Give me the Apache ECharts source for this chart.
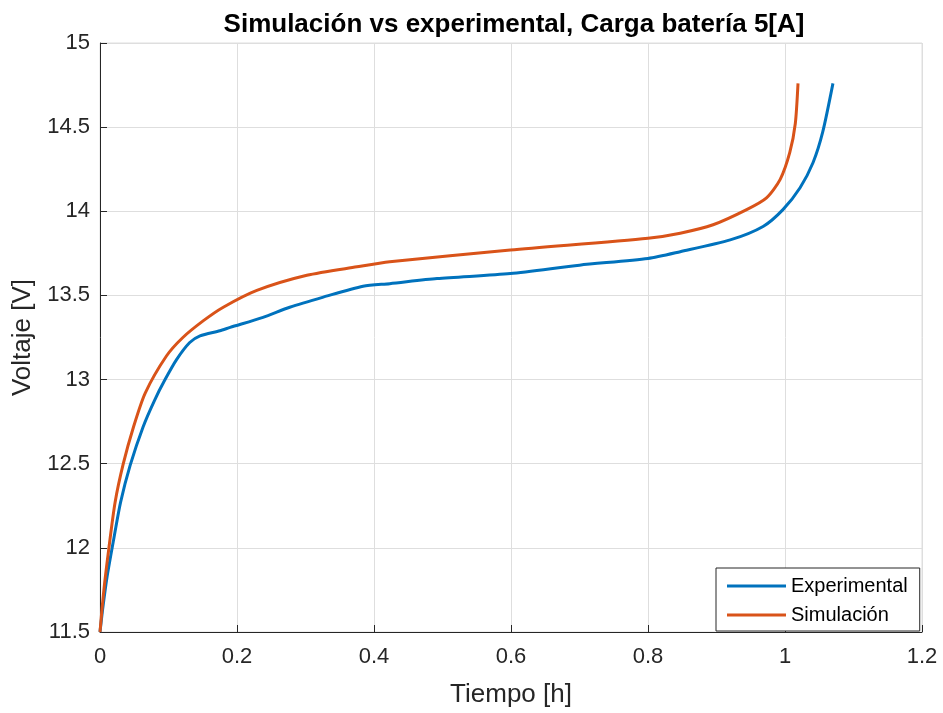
<!DOCTYPE html>
<html>
<head>
<meta charset="utf-8">
<script src="https://cdn.jsdelivr.net/npm/echarts@6/dist/echarts.min.js"></script>
<style>
  html, body { margin: 0; padding: 0; background: #fff; }
  #chart { width: 943px; height: 713px; }
</style>
</head>
<body>
<div id="chart"></div>
<script>
// Measured charge curves: time [h], voltage [V]
const expTime = [0, 0.004, 0.010, 0.0204, 0.030, 0.044, 0.063, 0.080, 0.095, 0.112, 0.131, 0.146, 0.175, 0.190, 0.238, 0.277, 0.326, 0.384, 0.423, 0.492, 0.599, 0.700, 0.800, 0.847, 0.920, 0.968, 0.997, 1.022, 1.041, 1.055, 1.070];
const expVolt = [11.5, 11.64, 11.82, 12.06, 12.27, 12.49, 12.72, 12.88, 13.0, 13.12, 13.22, 13.26, 13.29, 13.31, 13.37, 13.43, 13.49, 13.555, 13.57, 13.60, 13.63, 13.68, 13.72, 13.76, 13.83, 13.91, 14.01, 14.14, 14.29, 14.47, 14.76];

const simTime = [0, 0.003, 0.007, 0.013, 0.022, 0.034, 0.049, 0.066, 0.097, 0.121, 0.151, 0.180, 0.229, 0.302, 0.375, 0.423, 0.599, 0.800, 0.847, 0.895, 0.944, 0.973, 0.993, 1.007, 1.015, 1.019];
const simVolt = [11.5, 11.64, 11.80, 12.0, 12.27, 12.50, 12.72, 12.92, 13.14, 13.25, 13.35, 13.43, 13.53, 13.62, 13.67, 13.70, 13.77, 13.84, 13.87, 13.92, 14.01, 14.08, 14.19, 14.35, 14.52, 14.76];

const seriesNames = ['Experimental', 'Simulación'];
const xTicks = { min: 0, max: 1.2, step: 0.2 };
const yTicks = { min: 11.5, max: 15, step: 0.5 };

const pairs = (xs, ys) => xs.map((x, i) => [x, ys[i]]);

const font = 'Liberation Sans, Arial, Helvetica, sans-serif';
const axisGray = '#262626';
const gridGray = '#dedede';

const chart = echarts.init(document.getElementById('chart'));
chart.setOption({
  animation: false,
  backgroundColor: '#ffffff',
  title: {
    text: 'Simulación vs experimental, Carga batería 5[A]',
    left: 509, top: 7, textAlign: 'center',
    textStyle: { fontFamily: font, fontSize: 26, fontWeight: 'bold', color: '#000' }
  },
  grid: {
    left: 100, right: 21, top: 43, bottom: 81,
    containLabel: false, outerBoundsMode: 'none',
    show: true, borderColor: gridGray, borderWidth: 1
  },
  legend: {
    orient: 'vertical',
    left: 716, top: 568,
    padding: [8, 12, 6, 11],
    itemGap: 9,
    itemWidth: 59, itemHeight: 3,
    backgroundColor: '#fff',
    borderColor: axisGray, borderWidth: 1, borderRadius: 0,
    icon: 'rect',
    textStyle: { fontFamily: font, fontSize: 20, color: '#000' },
    data: seriesNames
  },
  xAxis: {
    type: 'value',
    min: xTicks.min, max: xTicks.max, interval: xTicks.step,
    name: 'Tiempo [h]', nameLocation: 'middle', nameGap: 50,
    nameTextStyle: { fontFamily: font, fontSize: 26, color: axisGray },
    axisLine: { show: true, lineStyle: { color: axisGray, width: 1 } },
    axisTick: { show: true, inside: true, length: 7, lineStyle: { color: axisGray } },
    axisLabel: { fontFamily: font, fontSize: 22, color: axisGray, margin: 14,
      formatter: v => String(Math.round(v * 10) / 10) },
    splitLine: { show: true, lineStyle: { color: gridGray, width: 1 } }
  },
  yAxis: {
    type: 'value',
    min: yTicks.min, max: yTicks.max, interval: yTicks.step,
    name: 'Voltaje [V]', nameLocation: 'middle', nameGap: 58, nameRotate: 90,
    nameTextStyle: { fontFamily: font, fontSize: 26, color: axisGray },
    axisLine: { show: true, lineStyle: { color: axisGray, width: 1 } },
    axisTick: { show: true, inside: true, length: 7, lineStyle: { color: axisGray } },
    axisLabel: { fontFamily: font, fontSize: 22, color: axisGray, margin: 10,
      formatter: v => String(Math.round(v * 10) / 10) },
    splitLine: { show: true, lineStyle: { color: gridGray, width: 1 } }
  },
  series: [
    {
      name: seriesNames[0], type: 'line', data: pairs(expTime, expVolt),
      smooth: 0.25, showSymbol: false,
      lineStyle: { color: '#0072BD', width: 3 }, itemStyle: { color: '#0072BD' }
    },
    {
      name: seriesNames[1], type: 'line', data: pairs(simTime, simVolt),
      smooth: 0.25, showSymbol: false,
      lineStyle: { color: '#D95319', width: 3 }, itemStyle: { color: '#D95319' }
    }
  ]
});
</script>
</body>
</html>
